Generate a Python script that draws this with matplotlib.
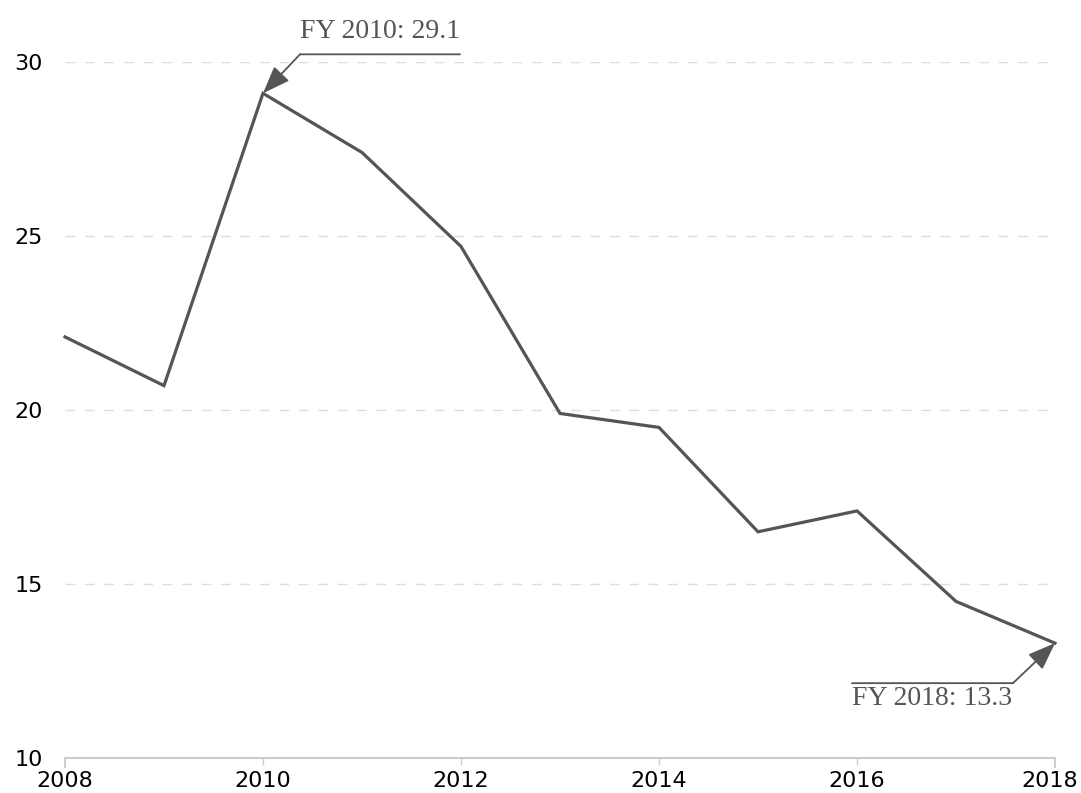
import matplotlib
matplotlib.use('Agg')

import matplotlib.pyplot as plt
from matplotlib.transforms import offset_copy, ScaledTranslation

# Fiscal years and values
years = [2008, 2009, 2010, 2011, 2012, 2013, 2014, 2015, 2016, 2017, 2018]
values = [22.1, 20.7, 29.1, 27.4, 24.7, 19.9, 19.5, 16.5, 17.1, 14.5, 13.3]
x_ticks = [2008, 2010, 2012, 2014, 2016, 2018]
y_ticks = [10, 15, 20, 25, 30]

line_color = '#555555'
grid_color = '#dddddd'
axis_color = '#cccccc'

fig = plt.figure(figsize=(10.81, 7.93), dpi=100)
ax = fig.add_axes([65 / 1081, 35 / 793, 990 / 1081, 696 / 793])

ax.plot(years, values, color=line_color, linewidth=2.3, solid_joinstyle='miter', clip_on=False)

ax.set_xlim(2008, 2018)
ax.set_ylim(10, 30)
ax.set_xticks(x_ticks)
ax.set_yticks(y_ticks)
ax.tick_params(axis='x', length=5, width=1, color=axis_color, pad=4.5, labelsize=16)
ax.tick_params(axis='y', length=0, pad=16, labelsize=16)
# end ticks are a little longer and heavier
xt = ax.xaxis.get_major_ticks()
for tick in (xt[0], xt[-1]):
    tick.tick1line.set_markersize(7)
    tick.tick1line.set_markeredgewidth(1.5)
# nudge the last year label so it stays inside the canvas
xt[-1].label1.set_transform(xt[-1].label1.get_transform()
                            + ScaledTranslation(-0.05, 0, fig.dpi_scale_trans))

for spine in ['top', 'right', 'left']:
    ax.spines[spine].set_visible(False)
ax.spines['bottom'].set_color(axis_color)
ax.spines['bottom'].set_linewidth(1.5)

for y in y_ticks[1:]:
    ax.axhline(y, color=grid_color, linewidth=1, dashes=(7, 7), zorder=0)


def callout(x, y, label, corner, end, text_dy, va):
    """Arrow from a bent leader line (offsets in pixels) to a data point."""
    note_font = dict(family=['Liberation Serif', 'DejaVu Serif'], size=20, color=line_color)
    ax.annotate('', xy=(x, y), xytext=corner, textcoords='offset pixels',
                arrowprops=dict(arrowstyle='-|>,head_length=0.85,head_width=0.32',
                                color=line_color, lw=1.3, mutation_scale=20,
                                shrinkA=0, shrinkB=0),
                annotation_clip=False)
    start_tr = offset_copy(ax.transData, fig=fig, x=corner[0], y=corner[1], units='dots')
    end_tr = offset_copy(ax.transData, fig=fig, x=end, y=corner[1], units='dots')
    ax.annotate('', xy=(x, y), xycoords=end_tr, xytext=(x, y), textcoords=start_tr,
                arrowprops=dict(arrowstyle='-', color=line_color, lw=1.3,
                                shrinkA=0, shrinkB=0),
                annotation_clip=False)
    ax.annotate(label, xy=(x, y), xytext=((corner[0] + end) / 2, text_dy),
                textcoords='offset pixels', ha='center', va=va,
                annotation_clip=False, **note_font)


callout(years[2], values[2], f'FY {years[2]}: {values[2]}', (37, 39), 197, 49, 'bottom')
callout(years[-1], values[-1], f'FY {years[-1]}: {values[-1]}', (-42, -40), -203, -43, 'top')

fig.savefig('out.png', dpi=100)
